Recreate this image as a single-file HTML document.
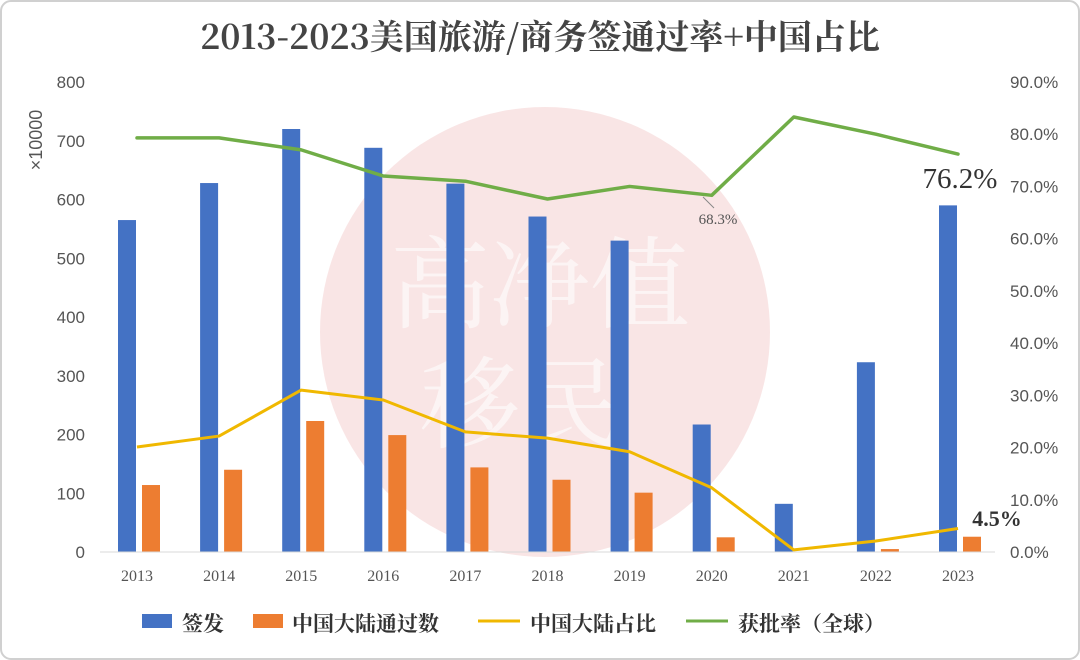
<!DOCTYPE html>
<html><head><meta charset="utf-8"><style>
html,body{margin:0;padding:0;background:#fff}
svg{display:block;font-family:"Liberation Sans","Noto Sans CJK SC",sans-serif}
</style></head><body>
<svg id="c" width="1080" height="660" viewBox="0 0 1080 660" xmlns="http://www.w3.org/2000/svg">
<rect x="1" y="1" width="1078" height="658" rx="10" fill="#fff" stroke="#d0d0d0" stroke-width="2"/>
<circle cx="545" cy="332" r="225" fill="#f7dcdc" opacity="0.75"/>
<text x="540" y="320" font-family="Noto Serif CJK SC,serif" font-size="100" fill="#fff" opacity="0.6" text-anchor="middle">高净值</text>
<text x="520" y="440" font-family="Noto Serif CJK SC,serif" font-size="100" fill="#fff" opacity="0.6" text-anchor="middle">移民</text>
<text x="540" y="49" font-family="Noto Serif CJK SC,serif" font-size="34" font-weight="bold" fill="#444" text-anchor="middle">2013-2023美国旅游/商务签通过率+中国占比</text>
<text transform="translate(42,140) rotate(-90)" font-size="18" fill="#555" text-anchor="middle">×10000</text>
<g id="g"></g>
<line x1="100" y1="552" x2="995" y2="552" stroke="#d9d9d9" stroke-width="1"/>
<text x="718" y="224" font-size="15" fill="#555" font-family="Liberation Serif,serif" text-anchor="middle">68.3%</text>
<line x1="703" y1="197" x2="714" y2="208" stroke="#888"/>
<text x="960" y="188" font-size="29" fill="#333" font-family="Liberation Serif,serif" text-anchor="middle">76.2%</text>
<text x="997" y="526" font-size="22" fill="#333" font-weight="bold" font-family="Liberation Serif,serif" text-anchor="middle">4.5%</text>
<g font-size="21" font-weight="bold" fill="#333" font-family="Noto Serif CJK SC,serif">
<rect x="142" y="614" width="30" height="14" fill="#4472c4"/><text x="182" y="631">签发</text>
<rect x="253" y="614" width="30" height="14" fill="#ed7d31"/><text x="292" y="631">中国大陆通过数</text>
<line x1="478" y1="621" x2="520" y2="621" stroke="#f0b800" stroke-width="3"/><text x="530" y="631">中国大陆占比</text>
<line x1="686" y1="621" x2="728" y2="621" stroke="#70ad47" stroke-width="3"/><text x="738" y="631">获批率（全球）</text>
</g>
</svg>
<script>
const g=document.getElementById('g');let s='';
const y0=552,ppu=470/800,ppp=470/90;
for(let i=0;i<=8;i++){const y=y0-i*100*ppu;s+=`<text x="85" y="${y+6}" font-size="17" fill="#555" text-anchor="end">${i*100}</text>`;
s+=`<text x="1010" y="${y0-i*10*ppp+6}" font-size="17" fill="#555">${(i*10).toFixed(1)}%</text>`;}
s+=`<text x="1010" y="${y0-90*ppp+6}" font-size="17" fill="#555">90.0%</text>`;
const B=[565,628,720,688,627,571,530,217,82,323,590],O=[114,140,223,199,144,123,101,25,0,5,26];
const Y=[20.1,22.2,31,29.1,23,21.8,19.2,12.3,0.4,2.1,4.5],G=[79.3,79.3,77,72,71,67.6,70,68.3,83.3,80,76.2];
let py=[],pg=[];
for(let i=0;i<11;i++){const cx=137+i*82.1;
s+=`<rect x="${cx-19}" y="${y0-B[i]*ppu}" width="18" height="${B[i]*ppu}" fill="#4472c4"/>`;
if(O[i])s+=`<rect x="${cx+5}" y="${y0-O[i]*ppu}" width="18" height="${O[i]*ppu}" fill="#ed7d31"/>`;
s+=`<text x="${cx}" y="581" font-size="16" fill="#555" font-family="Liberation Serif,serif" text-anchor="middle">${2013+i}</text>`;
py.push(cx+','+(y0-Y[i]*ppp));pg.push(cx+','+(y0-G[i]*ppp));}
s+=`<polyline points="${py.join(' ')}" fill="none" stroke="#f0b800" stroke-width="3" stroke-linejoin="round"/>`;
s+=`<polyline points="${pg.join(' ')}" fill="none" stroke="#70ad47" stroke-width="3.5" stroke-linejoin="round" stroke-linecap="round"/>`;
g.innerHTML=s;
</script>
</body></html>
